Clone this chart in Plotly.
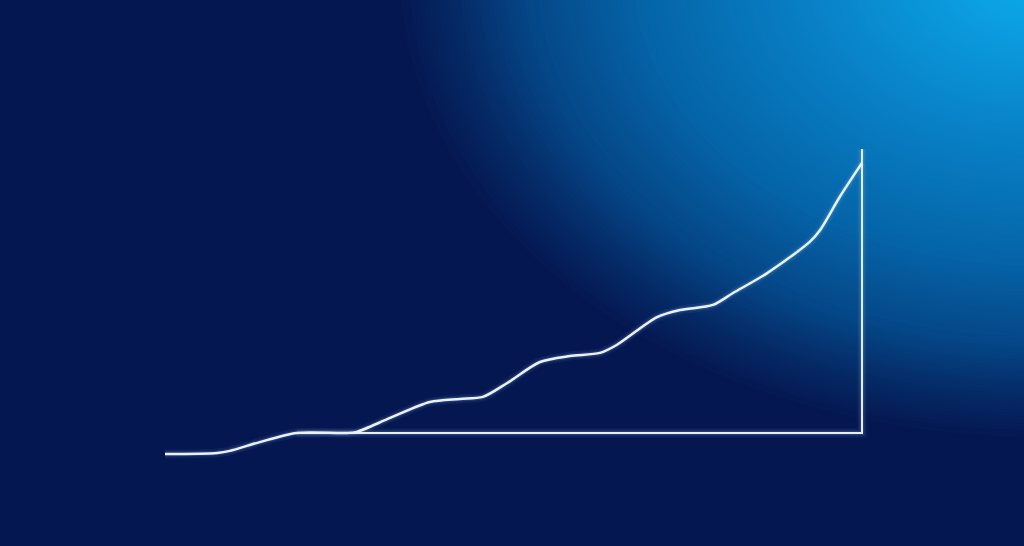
import plotly.graph_objects as go

# growth curve (period 0-100, value relative to baseline)
period = [0, 7.5, 9.3, 13.6, 18.9, 25.8, 27.5, 32.3, 38.0, 42.3, 45.6, 49.1,
          53.8, 58.1, 62.4, 64.8, 70.6, 73.9, 78.6, 81.5, 86.4, 92.5, 94.0,
          96.8, 100]
value = [-7.4, -7.0, -6.3, -3.2, 0, 0, 0.4, 5.3, 10.9, 12.0, 12.7, 17.6,
         25.0, 27.1, 28.2, 31.0, 40.8, 43.3, 45.1, 49.3, 56.3, 67.3, 71.5,
         83.1, 95.1]

# baseline and right-hand vertical
frame_x = [18.9, 100, 100]
frame_y = [0, 0, 100]

W, H = 1024, 546
NAVY = "#051751"

# radial glow in the top-right corner, built from stacked ellipses
glow_stops = [(0.0, (12, 174, 238)), (0.35, (9, 130, 200)), (0.62, (5, 100, 168)),
              (0.8, (5, 70, 134)), (0.91, (5, 42, 102)), (1.0, (5, 23, 81))]


def glow_color(t):
    for (t0, c0), (t1, c1) in zip(glow_stops, glow_stops[1:]):
        if t <= t1:
            f = (t - t0) / (t1 - t0)
            return "rgb(%d,%d,%d)" % tuple(round(a + (b - a) * f) for a, b in zip(c0, c1))
    return "rgb(%d,%d,%d)" % glow_stops[-1][1]


shapes = []
steps = 140
cx, cy = 1035 / W, 1 + 30 / H
for i in range(steps, 0, -1):
    s = i / steps
    rx = 640 * s / W
    ry = 470 * s / H
    shapes.append(dict(type="circle", xref="paper", yref="paper",
                       x0=cx - rx, x1=cx + rx, y0=cy - ry, y1=cy + ry,
                       fillcolor=glow_color(s), line=dict(width=0), layer="below"))

fig = go.Figure()

# soft glow under the lines
for width, alpha in [(9, 0.06), (5, 0.14)]:
    for xs, ys, shape in [(frame_x, frame_y, "linear"), (period, value, "spline")]:
        fig.add_trace(go.Scatter(x=xs, y=ys, mode="lines",
                                 line=dict(color=f"rgba(170,210,255,{alpha})", width=width,
                                           shape=shape, smoothing=0.8),
                                 hoverinfo="skip", showlegend=False))

fig.add_trace(go.Scatter(x=frame_x, y=frame_y, mode="lines",
                         line=dict(color="#e4eefc", width=2), showlegend=False))
fig.add_trace(go.Scatter(x=period, y=value, mode="lines",
                         line=dict(color="#eaf2ff", width=2.5, shape="spline", smoothing=0.8),
                         showlegend=False))

# axis ranges chosen so the frame sits where it does in the picture
px_x = 697 / 100
px_y = 284 / 100
fig.update_xaxes(range=[-165 / px_x, (W - 165) / px_x], visible=False)
fig.update_yaxes(range=[(433 - H) / px_y, 433 / px_y], visible=False)

fig.update_layout(
    width=W, height=H,
    margin=dict(l=0, r=0, t=0, b=0),
    paper_bgcolor=NAVY,
    plot_bgcolor="rgba(0,0,0,0)",
    shapes=shapes,
)

fig.write_html("out.html", config={"displayModeBar": False},
               post_script="document.body.style.margin='0';document.body.style.overflow='hidden';")
